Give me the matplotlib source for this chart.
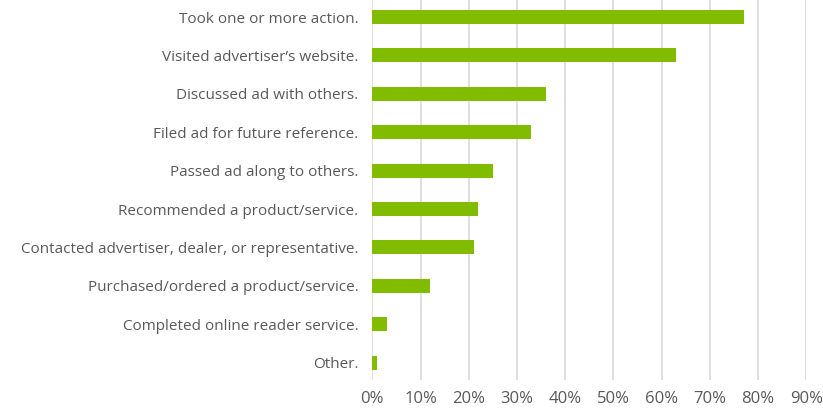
import matplotlib.pyplot as plt

# Survey responses (percent)
actions = [
    'Took one or more action.',
    'Visited advertiser\u2019s website.',
    'Discussed ad with others.',
    'Filed ad for future reference.',
    'Passed ad along to others.',
    'Recommended a product/service.',
    'Contacted advertiser, dealer, or representative.',
    'Purchased/ordered a product/service.',
    'Completed online reader service.',
    'Other.',
]
percent = [77, 63, 36, 33, 25, 22, 21, 12, 3, 1]
xticks = list(range(0, 100, 10))

plt.rcParams['font.family'] = ['Open Sans', 'DejaVu Sans']

fig = plt.figure(figsize=(8.23, 4.12), dpi=100)
ax = fig.add_axes([372.3 / 823, 32 / 412, 434 / 823, 380 / 412])

pos = list(range(len(actions)))
ax.barh(pos, percent, height=0.36, color='#82BC00', zorder=3)

ax.set_xlim(0, 90)
ax.set_ylim(9.453, -0.443)
ax.set_xticks(xticks)
ax.set_xticklabels([f'{t}%' for t in xticks])
ax.set_yticks(pos)
ax.set_yticklabels(actions)

ax.grid(axis='x', color='#d9d9d9', linewidth=1.2, zorder=0)
for s in ax.spines.values():
    s.set_visible(False)
ax.tick_params(axis='both', length=0, colors='#595959')
ax.tick_params(axis='y', pad=10, labelsize=11)
ax.tick_params(axis='x', pad=8, labelsize=12)

fig.savefig('out.png', dpi=100)
